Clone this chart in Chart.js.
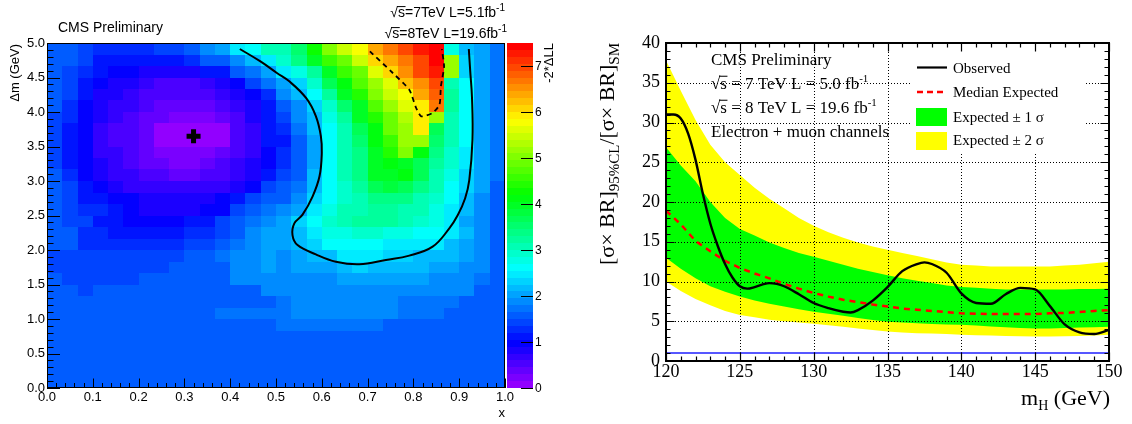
<!DOCTYPE html>
<html><head><meta charset="utf-8">
<script src="https://cdn.jsdelivr.net/npm/chart.js@4.4.1/dist/chart.umd.min.js"></script>
<style>
html,body{margin:0;padding:0;background:#fff;width:1132px;height:424px;overflow:hidden}
#c1{position:absolute;left:0;top:0}
#c2{position:absolute;left:565px;top:0}
</style></head><body>
<canvas id="c1" width="565" height="424"></canvas>
<canvas id="c2" width="567" height="424"></canvas>
<script>
// ---------------- Left panel data: -2*ΔLL scan (30 x 30 bins) ----------------
const scanXRange = [0, 1];
const scanYRange = [0, 5];
const scanZMax = 7.5;
const zTickLabels = [0, 1, 2, 3, 4, 5, 6, 7];
// rows listed from the top bin (Δm 4.83-5.0 GeV) down to the bottom bin (0-0.17 GeV)
const scanZRows = [
 [1.5,1.5,1.4,1.25,1.25,1.25,1.25,1.35,1.35,1.6,1.8,2.0,2.5,2.65,3.0, 3.05,3.5,4.3,5.0,5.4,5.8,6.35,6.6,7.0,7.3,7.4,2.8,2.2,2.0,1.7],
 [1.5,1.5,1.35,1.15,1.05,1.05,1.05,1.05,1.05,1.2,1.5,1.6,1.9,2.1,2.4, 2.9,3.3,3.9,4.5,4.9,5.4,6.05,6.3,6.7,7.0,7.4,5.15,2.35,2.0,1.7],
 [1.5,1.35,1.2,1.05,0.95,0.95,0.8,0.8,0.8,0.85,1.05,1.1,1.5,1.75,2.0, 2.4,2.8,3.2,4.0,4.6,4.9,5.6,6.05,6.5,6.9,7.25,5.15,2.35,2.0,1.7],
 [1.5,1.35,1.05,0.95,0.8,0.8,0.7,0.55,0.55,0.55,0.7,0.8,0.95,1.35,1.7, 2.05,2.35,2.9,3.6,4.1,4.75,5.2,5.6,6.15,6.55,6.95,3.1,2.6,2.0,1.7],
 [1.5,1.35,1.05,0.85,0.75,0.65,0.55,0.45,0.45,0.45,0.55,0.65,0.8,0.95,1.2, 1.85,2.1,2.6,3.2,3.9,4.4,5.0,5.45,5.8,6.4,6.85,3.15,2.6,2.0,1.7],
 [1.5,1.3,0.95,0.8,0.7,0.6,0.45,0.35,0.35,0.35,0.35,0.45,0.6,0.8,1.05, 1.6,1.9,2.35,2.9,3.5,4.0,4.7,5.2,5.6,5.9,6.6,3.15,2.6,2.0,1.7],
 [1.45,1.2,0.95,0.75,0.6,0.5,0.35,0.35,0.25,0.25,0.25,0.4,0.55,0.75,1.05, 1.4,1.8,2.2,2.75,3.2,3.9,4.4,4.9,5.3,5.95,5.1,3.1,2.6,2.0,1.7],
 [1.45,1.1,0.95,0.7,0.55,0.45,0.3,0.12,0.12,0.12,0.12,0.12,0.5,0.7,1.05, 1.2,1.7,2.1,2.6,3.1,3.6,4.15,4.8,5.2,5.9,3.6,3.0,2.6,2.0,1.7],
 [1.45,1.05,0.95,0.7,0.55,0.45,0.3,0.08,0.08,0.08,0.08,0.08,0.45,0.7,1.05, 1.05,1.6,2.05,2.6,3.0,3.5,4.15,4.6,5.1,5.2,3.5,3.0,2.6,2.0,1.7],
 [1.45,1.1,0.95,0.7,0.6,0.5,0.3,0.15,0.15,0.15,0.15,0.3,0.5,0.7,1.0, 1.2,1.6,2.05,2.6,3.0,3.4,4.0,4.4,5.0,4.1,3.4,2.9,2.5,2.0,1.7],
 [1.45,1.15,0.95,0.75,0.65,0.55,0.4,0.3,0.25,0.25,0.35,0.5,0.6,0.8,0.95, 1.3,1.6,2.05,2.6,3.0,3.4,4.0,4.15,4.0,3.7,3.2,2.9,2.45,2.0,1.7],
 [1.5,1.2,0.95,0.8,0.7,0.6,0.5,0.5,0.4,0.4,0.5,0.55,0.7,0.85,1.1, 1.35,1.6,2.1,2.6,3.0,3.35,3.95,4.05,4.15,3.65,3.1,2.8,2.35,2.0,1.7],
 [1.5,1.35,1.05,0.9,0.8,0.7,0.65,0.6,0.6,0.6,0.65,0.7,0.85,0.95,1.35, 1.5,1.7,2.1,2.6,2.9,3.15,3.7,3.85,3.65,3.4,3.0,2.6,2.25,2.0,1.6],
 [1.5,1.35,1.1,1.05,0.9,0.9,0.8,0.8,0.8,0.8,0.85,0.95,1.05,1.35,1.5, 1.6,1.8,2.25,2.6,2.9,3.1,3.4,3.4,3.3,3.1,2.9,2.6,2.1,1.9,1.6],
 [1.5,1.45,1.2,1.2,1.05,0.9,0.85,0.85,0.85,0.85,0.95,0.95,1.4,1.6,1.65, 1.8,2.0,2.4,2.75,3.0,3.1,3.2,3.2,3.1,3.0,2.8,2.5,2.1,1.85,1.5],
 [1.5,1.35,1.35,1.15,1.15,0.95,0.95,0.95,0.95,1.1,1.1,1.35,1.55,1.65,1.9, 2.0,2.35,2.6,2.9,3.1,3.2,3.25,3.2,3.1,2.9,2.7,2.4,2.0,1.8,1.5],
 [1.5,1.5,1.2,1.2,1.05,1.05,1.05,1.05,1.05,1.2,1.2,1.35,1.6,1.8,2.0, 2.0,2.2,2.5,2.7,2.7,2.85,2.85,2.8,2.75,2.6,2.6,2.45,2.1,1.8,1.5],
 [1.5,1.5,1.25,1.25,1.25,1.25,1.25,1.25,1.25,1.35,1.35,1.5,1.7,1.8,2.0, 2.0,2.1,2.35,2.6,2.6,2.6,2.6,2.5,2.5,2.4,2.4,2.2,2.0,1.8,1.5],
 [1.4,1.4,1.4,1.4,1.4,1.4,1.4,1.4,1.4,1.5,1.5,1.7,1.8,1.8,2.0, 1.9,2.0,2.2,2.2,2.45,2.45,2.45,2.3,2.3,2.2,2.2,2.1,2.0,1.8,1.5],
 [1.45,1.4,1.4,1.4,1.4,1.4,1.4,1.4,1.5,1.5,1.6,1.6,1.8,1.8,2.0, 1.85,1.95,2.05,2.05,2.2,2.35,2.2,2.2,2.2,2.1,2.0,2.0,1.9,1.8,1.5],
 [1.6,1.4,1.4,1.4,1.4,1.4,1.5,1.5,1.5,1.5,1.6,1.6,1.8,1.8,1.8, 1.8,1.9,1.9,1.9,2.05,2.05,2.0,2.0,2.0,2.0,1.9,1.9,1.8,1.7,1.5],
 [1.5,1.5,1.4,1.5,1.5,1.5,1.5,1.5,1.5,1.5,1.6,1.6,1.6,1.6,1.8, 1.85,1.85,1.85,1.85,1.85,1.85,1.85,1.85,1.85,1.85,1.85,1.8,1.8,1.5,1.5],
 [1.5,1.5,1.5,1.5,1.5,1.5,1.5,1.5,1.5,1.5,1.6,1.6,1.6,1.6,1.6, 1.7,1.85,1.85,1.85,1.85,1.85,1.85,1.85,1.7,1.7,1.7,1.7,1.5,1.5,1.5],
 [1.5,1.5,1.5,1.5,1.5,1.5,1.5,1.5,1.5,1.5,1.5,1.65,1.65,1.65,1.65, 1.7,1.8,1.8,1.8,1.8,1.8,1.8,1.8,1.7,1.7,1.7,1.5,1.5,1.5,1.5],
 [1.5,1.5,1.5,1.5,1.5,1.5,1.5,1.5,1.5,1.5,1.5,1.5,1.5,1.5,1.5, 1.7,1.7,1.7,1.7,1.7,1.7,1.7,1.5,1.5,1.5,1.5,1.5,1.5,1.5,1.5],
 [1.5,1.5,1.5,1.5,1.5,1.5,1.5,1.5,1.5,1.5,1.5,1.5,1.5,1.5,1.5, 1.5,1.5,1.5,1.5,1.5,1.5,1.5,1.5,1.5,1.5,1.5,1.5,1.5,1.5,1.5],
 [1.5,1.5,1.5,1.5,1.5,1.5,1.5,1.5,1.5,1.5,1.5,1.5,1.5,1.5,1.5, 1.5,1.5,1.5,1.5,1.5,1.5,1.5,1.5,1.5,1.5,1.5,1.5,1.5,1.5,1.5],
 [1.5,1.5,1.5,1.5,1.5,1.5,1.5,1.5,1.5,1.5,1.5,1.5,1.5,1.5,1.5, 1.5,1.5,1.5,1.5,1.5,1.5,1.5,1.5,1.5,1.5,1.5,1.5,1.5,1.5,1.5],
 [1.5,1.5,1.5,1.5,1.5,1.5,1.5,1.5,1.5,1.5,1.5,1.5,1.5,1.5,1.5, 1.5,1.5,1.5,1.5,1.5,1.5,1.5,1.5,1.5,1.5,1.5,1.5,1.5,1.5,1.5],
 [1.5,1.5,1.5,1.5,1.5,1.5,1.5,1.5,1.5,1.5,1.5,1.5,1.5,1.5,1.5, 1.5,1.5,1.5,1.5,1.5,1.5,1.5,1.5,1.5,1.5,1.5,1.5,1.5,1.5,1.5]
];
const bestFitX = [0.32];
const bestFitY = [3.65];
const contourSolidX = [0.421,0.466,0.502,0.529,0.566,0.587,0.598,0.600,0.595,0.580,0.558,0.540,0.536,0.547,0.587,0.631,0.682,0.740,0.791,0.842,0.878,0.897,0.913,0.922,0.929,0.928,0.924,0.921];
const contourSolidY = [4.913,4.733,4.565,4.444,4.200,3.940,3.648,3.406,3.068,2.778,2.512,2.386,2.217,2.072,1.937,1.830,1.793,1.855,1.918,2.048,2.310,2.507,2.750,3.014,3.600,4.200,4.600,4.913];
const contourDashX = [0.705,0.755,0.791,0.806,0.817,0.842,0.857,0.860,0.867,0.862];
const contourDashY = [4.879,4.565,4.323,4.058,3.938,3.986,4.106,4.370,4.660,4.913];

// ---------------- Right panel data: 95% CL limits ----------------
const massGrid = [120,121,122,123,124,125,126,127,128,129,130,131,132,133,134,135,136,137,138,139,140,141,142,143,144,145,146,147,148,149,150];
const exp2Hi = [37.8,34.0,30.3,27.2,25.0,23.4,21.8,20.4,19.2,18.0,17.0,16.2,15.5,14.9,14.4,14.0,13.6,13.2,12.8,12.4,12.1,12.0,11.9,11.9,11.9,11.9,11.9,12.0,12.1,12.3,12.5];
const exp1Hi = [26.9,24.6,22.6,20.0,18.0,16.6,15.8,14.9,14.2,13.6,13.1,12.6,12.1,11.6,11.2,10.8,10.4,10.1,9.8,9.5,9.3,9.2,9.1,9.0,9.0,9.0,9.0,9.0,9.05,9.05,9.1];
const expMedian = [18.9,17.2,15.1,13.8,12.6,11.7,11.0,10.4,9.7,9.1,8.55,8.1,7.7,7.4,7.1,6.85,6.6,6.45,6.3,6.15,6.0,5.95,5.9,5.9,5.9,5.9,6.0,6.05,6.15,6.3,6.4];
const exp1Lo = [13.0,11.6,10.4,9.4,8.7,8.1,7.6,7.2,6.85,6.5,6.2,5.95,5.7,5.4,5.15,4.95,4.85,4.75,4.65,4.6,4.55,4.45,4.35,4.25,4.15,4.1,4.1,4.15,4.2,4.25,4.3];
const exp2Lo = [10.0,8.8,7.8,7.0,6.3,5.8,5.5,5.2,5.0,4.85,4.7,4.5,4.3,4.1,3.9,3.7,3.6,3.5,3.45,3.4,3.3,3.25,3.2,3.15,3.1,3.07,3.07,3.1,3.15,3.2,3.3];
const obsMass = [120,120.5,121,121.5,122,122.5,123,123.5,124,124.5,125,125.5,126,126.5,127,127.5,128,129,130,131,132,132.5,133,134,135,136,137,137.5,138,139,140,141,142,143,144,145,146,147,148,149,150];
const obsLimit = [31.0,31.0,30.5,28.6,25.3,21.0,17.3,14.5,12.2,10.5,9.4,9.1,9.3,9.6,9.8,9.7,9.4,8.4,7.3,6.65,6.2,6.1,6.4,7.6,9.3,11.3,12.2,12.4,12.2,11.1,8.5,7.3,7.2,8.4,9.2,9.0,6.9,4.6,3.6,3.4,3.9];
const smLevel = [1, 1];
const smMass = [120, 150];

// ---------------- helpers ----------------
const SANS = '"Liberation Sans", Arial, Helvetica, sans-serif';
const SERIF = '"Liberation Serif", "Times New Roman", Times, serif';
const pts = (xs, ys) => xs.map((v, i) => ({x: v, y: ys[i]}));

function paletteColor(z) {
  let k = Math.floor(z / scanZMax * 50);
  if (k < 0) k = 0; if (k > 49) k = 49;
  const hue = 280 - (k + 1) * 5.6;
  return 'hsl(' + hue.toFixed(2) + ',100%,50%)';
}

// draws a sequence of text segments; seg: {t, size, family, dy, over}
function drawRich(ctx, x, y, segs, align) {
  const widths = segs.map(s => { ctx.font = s.size + 'px ' + s.family; return ctx.measureText(s.t).width; });
  const total = widths.reduce((a, b) => a + b, 0);
  let cx = align === 'right' ? x - total : x;
  ctx.textAlign = 'left';
  ctx.textBaseline = 'alphabetic';
  segs.forEach((s, i) => {
    ctx.font = s.size + 'px ' + s.family;
    ctx.fillText(s.t, cx, y + (s.dy || 0));
    if (s.over) {
      const wR = ctx.measureText('√').width;
      ctx.save();
      ctx.lineWidth = Math.max(1, s.size * 0.06);
      ctx.strokeStyle = ctx.fillStyle;
      ctx.beginPath();
      const top = y - s.size * 0.78;
      ctx.moveTo(cx + wR - s.size * 0.08, top + 0.5);
      ctx.lineTo(cx + widths[i] + 0.5, top + 0.5);
      ctx.stroke();
      ctx.restore();
    }
    cx += widths[i];
  });
  return total;
}

// ---------------- Left chart ----------------
const leftPlugin = {
  id: 'scanDecor',
  beforeDatasetsDraw(chart) {
    const {ctx, scales: {x, y}} = chart;
    const nR = scanZRows.length, nC = scanZRows[0].length;
    const dx = (scanXRange[1] - scanXRange[0]) / nC, dy = (scanYRange[1] - scanYRange[0]) / nR;
    const rowEdge = [], colEdge = [];
    for (let r = 0; r <= nR; r++) rowEdge.push(Math.round(y.getPixelForValue(scanYRange[1] - r * dy)));
    for (let c = 0; c <= nC; c++) colEdge.push(Math.round(x.getPixelForValue(scanXRange[0] + c * dx)));
    ctx.save();
    for (let r = 0; r < nR; r++) {
      for (let c = 0; c < nC; c++) {
        ctx.fillStyle = paletteColor(scanZRows[r][c]);
        ctx.fillRect(colEdge[c], rowEdge[r], colEdge[c + 1] - colEdge[c], rowEdge[r + 1] - rowEdge[r]);
      }
    }
    ctx.restore();
  },
  afterDraw(chart) {
    const {ctx, chartArea: a, scales: {x, y}} = chart;
    ctx.save();
    // frame
    ctx.strokeStyle = '#000'; ctx.lineWidth = 1;
    ctx.strokeRect(a.left + 0.5, a.top + 0.5, a.right - a.left - 1, a.bottom - a.top - 1);
    // ticks (inside)
    ctx.beginPath();
    for (let i = 0; i <= 50; i++) {
      const py = Math.round(y.getPixelForValue(i * 0.1)) + 0.5;
      const len = (i % 5 === 0) ? 13 : 6.5;
      ctx.moveTo(a.left, py); ctx.lineTo(a.left + len, py);
    }
    for (let i = 0; i <= 50; i++) {
      const px = Math.round(x.getPixelForValue(i * 0.02)) + 0.5;
      const len = (i % 5 === 0) ? 9.5 : 5;
      ctx.moveTo(px, a.bottom); ctx.lineTo(px, a.bottom - len);
    }
    ctx.stroke();
    // colour bar
    const bx0 = a.right + 2, bx1 = a.right + 28;
    const zPix = z => a.bottom - z / scanZMax * (a.bottom - a.top);
    const bandEdge = [];
    for (let k = 0; k <= 50; k++) bandEdge.push(Math.round(zPix(k * scanZMax / 50)));
    for (let k = 0; k < 50; k++) {
      ctx.fillStyle = paletteColor((k + 0.5) * scanZMax / 50);
      ctx.fillRect(bx0, bandEdge[k + 1], bx1 - bx0, bandEdge[k] - bandEdge[k + 1]);
    }
    ctx.beginPath();
    ctx.strokeStyle = '#000'; ctx.lineWidth = 1;
    zTickLabels.forEach(z => {
      const p = Math.round(zPix(z)) + 0.5;
      ctx.moveTo(bx1, p); ctx.lineTo(bx1 - 12, p);
    });
    ctx.stroke();
    ctx.fillStyle = '#000';
    ctx.font = '12px ' + SANS; ctx.textAlign = 'left'; ctx.textBaseline = 'middle';
    zTickLabels.forEach(z => ctx.fillText(String(z), bx1 + 2, zPix(z) + 1));
    // rotated colour-bar title
    ctx.save();
    ctx.translate(553, a.top); ctx.rotate(-Math.PI / 2);
    ctx.textAlign = 'right'; ctx.textBaseline = 'alphabetic';
    ctx.font = '13px ' + SANS; ctx.fillText('-2*ΔLL', 0, 0);
    ctx.restore();
    // y title
    ctx.save();
    ctx.translate(19, a.top + 1); ctx.rotate(-Math.PI / 2);
    ctx.textAlign = 'right'; ctx.textBaseline = 'alphabetic';
    ctx.font = '13px ' + SANS; ctx.fillText('Δm (GeV)', 0, 0);
    ctx.restore();
    // x title
    ctx.font = '13px ' + SANS; ctx.textAlign = 'right'; ctx.textBaseline = 'alphabetic';
    ctx.fillText('x', a.right, 417);
    // texts
    ctx.textAlign = 'left';
    ctx.font = '14px ' + SANS; ctx.fillText('CMS Preliminary', 58, 32);
    drawRich(ctx, 505, 17, [
      {t: '√s', size: 14, family: SANS, over: true},
      {t: '=7TeV L=5.1fb', size: 14, family: SANS},
      {t: '-1', size: 10, family: SANS, dy: -6}], 'right');
    drawRich(ctx, 507, 38, [
      {t: '√s', size: 14, family: SANS, over: true},
      {t: '=8TeV L=19.6fb', size: 14, family: SANS},
      {t: '-1', size: 10, family: SANS, dy: -6}], 'right');
    ctx.restore();
  }
};

new Chart(document.getElementById('c1'), {
  type: 'line',
  data: {
    datasets: [
      {label: 'best fit', data: pts(bestFitX, bestFitY), showLine: false, pointStyle: 'cross',
       pointRadius: 7, pointBorderWidth: 5, borderColor: '#000', pointBorderColor: '#000', order: 0},
      {label: '68% CL', data: pts(contourSolidX, contourSolidY), borderColor: '#000', borderWidth: 2,
       pointRadius: 0, tension: 0.4, fill: false, order: 1},
      {label: '95% CL', data: pts(contourDashX, contourDashY), borderColor: '#000', borderWidth: 1.8,
       borderDash: [5, 4], pointRadius: 0, tension: 0.2, fill: false, order: 1}
    ]
  },
  options: {
    responsive: false, animation: false, devicePixelRatio: 1,
    layout: {padding: {top: 43, right: 60, left: 0, bottom: 0}},
    plugins: {legend: {display: false}, tooltip: {enabled: false}},
    scales: {
      x: {type: 'linear', min: 0, max: 1,
          ticks: {stepSize: 0.1, callback: v => v.toFixed(1), font: {family: SANS, size: 13}, color: '#000',
                  padding: 2, maxRotation: 0, autoSkip: false},
          grid: {display: false, drawTicks: false}, border: {display: false},
          afterFit(s) { s.height = 36; }},
      y: {type: 'linear', min: 0, max: 5,
          ticks: {stepSize: 0.5, callback: v => v.toFixed(1), font: {family: SANS, size: 13}, color: '#000',
                  padding: 2, autoSkip: false},
          grid: {display: false, drawTicks: false}, border: {display: false},
          afterFit(s) { s.width = 47; }}
    }
  },
  plugins: [leftPlugin]
});

// ---------------- Right chart ----------------
const SM_INDEX = 4;
const rightPlugin = {
  id: 'limitDecor',
  beforeDatasetDraw(chart, args) {
    if (args.index !== SM_INDEX) return;
    const {ctx, chartArea: a, scales: {x, y}} = chart;
    ctx.save();
    ctx.strokeStyle = '#000'; ctx.lineWidth = 1; ctx.setLineDash([1, 2]);
    ctx.beginPath();
    [125, 130, 135, 140, 145].forEach(m => {
      const px = Math.round(x.getPixelForValue(m)) + 0.5;
      ctx.moveTo(px, a.top); ctx.lineTo(px, a.bottom);
    });
    [5, 10, 15, 20, 25, 30, 35].forEach(v => {
      const py = Math.round(y.getPixelForValue(v)) + 0.5;
      ctx.moveTo(a.left, py); ctx.lineTo(a.right, py);
    });
    ctx.stroke();
    ctx.restore();
  },
  afterDraw(chart) {
    const {ctx, chartArea: a, scales: {x, y}} = chart;
    ctx.save();
    // legend box (white, no border)
    ctx.fillStyle = '#fff';
    ctx.fillRect(345, 47, 175, 106);
    // ticks on all four sides
    ctx.strokeStyle = '#000'; ctx.lineWidth = 1.2;
    ctx.beginPath();
    for (let m = 120; m <= 150; m++) {
      const px = Math.round(x.getPixelForValue(m)) + 0.5;
      const len = (m % 5 === 0) ? 8.5 : 4.5;
      ctx.moveTo(px, a.bottom); ctx.lineTo(px, a.bottom - len);
      ctx.moveTo(px, a.top); ctx.lineTo(px, a.top + len);
    }
    for (let v = 0; v <= 40; v++) {
      const py = Math.round(y.getPixelForValue(v)) + 0.5;
      const len = (v % 5 === 0) ? 8.5 : 4.5;
      ctx.moveTo(a.left, py); ctx.lineTo(a.left + len, py);
      ctx.moveTo(a.right, py); ctx.lineTo(a.right - len, py);
    }
    ctx.stroke();
    // frame
    ctx.lineWidth = 2;
    ctx.strokeRect(a.left, a.top, a.right - a.left, a.bottom - a.top);
    // legend entries
    ctx.lineWidth = 2.2; ctx.strokeStyle = '#000'; ctx.setLineDash([]);
    ctx.beginPath(); ctx.moveTo(352, 67.5); ctx.lineTo(382, 67.5); ctx.stroke();
    ctx.strokeStyle = '#ff0000'; ctx.lineWidth = 2.5; ctx.setLineDash([6, 4]);
    ctx.beginPath(); ctx.moveTo(352, 92); ctx.lineTo(382, 92); ctx.stroke();
    ctx.setLineDash([]);
    ctx.fillStyle = '#00ff00'; ctx.fillRect(351, 108, 31, 18);
    ctx.fillStyle = '#ffff00'; ctx.fillRect(351, 132, 31, 18);
    ctx.fillStyle = '#000';
    ctx.font = '15px ' + SERIF; ctx.textAlign = 'left'; ctx.textBaseline = 'alphabetic';
    ctx.fillText('Observed', 388, 73);
    ctx.fillText('Median Expected', 388, 97);
    ctx.fillText('Expected ± 1 σ', 388, 122);
    ctx.fillText('Expected ± 2 σ', 388, 145);
    // CMS text block
    ctx.font = '17px ' + SERIF;
    ctx.fillText('CMS Preliminary', 146, 65);
    drawRich(ctx, 146, 89, [
      {t: '√s', size: 17, family: SERIF, over: true},
      {t: ' = 7 TeV L = 5.0 fb', size: 17, family: SERIF},
      {t: '-1', size: 11, family: SERIF, dy: -7}], 'left');
    drawRich(ctx, 146, 113, [
      {t: '√s', size: 17, family: SERIF, over: true},
      {t: ' = 8 TeV L = 19.6 fb', size: 17, family: SERIF},
      {t: '-1', size: 11, family: SERIF, dy: -7}], 'left');
    ctx.font = '17px ' + SERIF;
    ctx.fillText('Electron + muon channels', 146, 137);
    // x title
    drawRich(ctx, 545, 405, [
      {t: 'm', size: 22, family: SERIF},
      {t: 'H', size: 14, family: SERIF, dy: 5},
      {t: ' (GeV)', size: 22, family: SERIF}], 'right');
    // y title (rotated)
    ctx.save();
    ctx.translate(49, 265); ctx.rotate(-Math.PI / 2);
    drawRich(ctx, 0, 0, [
      {t: '[σ× BR]', size: 22, family: SERIF},
      {t: '95%CL', size: 15, family: SERIF, dy: 5},
      {t: '/[σ× BR]', size: 22, family: SERIF},
      {t: 'SM', size: 15, family: SERIF, dy: 5}], 'left');
    ctx.restore();
    ctx.restore();
  }
};

const transparent = 'rgba(0,0,0,0)';
new Chart(document.getElementById('c2'), {
  type: 'line',
  data: {
    datasets: [
      {label: 'Expected ± 2 σ', data: pts(massGrid, exp2Hi), fill: '+1', backgroundColor: '#ffff00',
       borderColor: transparent, borderWidth: 0, pointRadius: 0, order: 10},
      {label: 'exp2Lo', data: pts(massGrid, exp2Lo), fill: false, borderColor: transparent, borderWidth: 0, pointRadius: 0, order: 10},
      {label: 'Expected ± 1 σ', data: pts(massGrid, exp1Hi), fill: '+1', backgroundColor: '#00ff00',
       borderColor: transparent, borderWidth: 0, pointRadius: 0, order: 8},
      {label: 'exp1Lo', data: pts(massGrid, exp1Lo), fill: false, borderColor: transparent, borderWidth: 0, pointRadius: 0, order: 8},
      {label: 'SM', data: pts(smMass, smLevel), borderColor: '#1f1fff', borderWidth: 1.5, pointRadius: 0, fill: false, order: 3},
      {label: 'Median Expected', data: pts(massGrid, expMedian), borderColor: '#ff0000', borderWidth: 2.5,
       borderDash: [6, 5], pointRadius: 0, fill: false, order: 2},
      {label: 'Observed', data: pts(obsMass, obsLimit), borderColor: '#000', borderWidth: 2.4, pointRadius: 0,
       fill: false, cubicInterpolationMode: 'monotone', order: 1}
    ]
  },
  options: {
    responsive: false, animation: false, devicePixelRatio: 1,
    layout: {padding: {top: 43, right: 23, left: 0, bottom: 0}},
    plugins: {legend: {display: false}, tooltip: {enabled: false}},
    scales: {
      x: {type: 'linear', min: 120, max: 150,
          ticks: {stepSize: 5, font: {family: SERIF, size: 18}, color: '#000', padding: 0, maxRotation: 0, autoSkip: false},
          grid: {display: false, drawTicks: false}, border: {display: false},
          afterFit(s) { s.height = 63; }},
      y: {type: 'linear', min: 0, max: 40,
          ticks: {stepSize: 5, font: {family: SERIF, size: 18}, color: '#000', padding: 6, autoSkip: false},
          grid: {display: false, drawTicks: false}, border: {display: false},
          afterFit(s) { s.width = 101; }}
    }
  },
  plugins: [rightPlugin]
});
</script>
</body></html>
